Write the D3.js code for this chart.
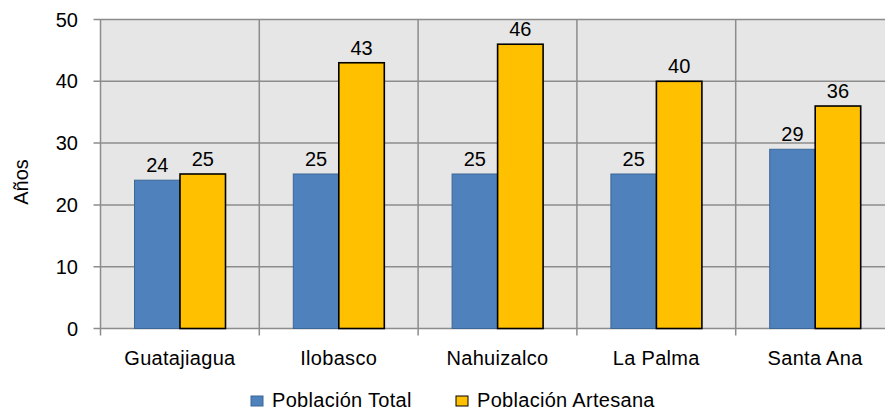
<!DOCTYPE html>
<html><head><meta charset="utf-8">
<script src="https://cdn.jsdelivr.net/npm/d3@7"></script>
<style>body{margin:0;background:#fff}svg{display:block}text{font-family:"Liberation Sans",Arial,sans-serif;fill:#000}</style>
</head><body><svg width="885" height="411"></svg>
<script>
const categories = ["Guatajiagua","Ilobasco","Nahuizalco","La Palma","Santa Ana"];
const seriesNames = ["Población Total","Población Artesana"];
const total = [24,25,25,25,29];
const artesana = [25,43,46,40,36];
const yTicks = [0,10,20,30,40,50];
const yTitle = "Años";
const colors = ["#4f81bd","#ffc000"];
const strokes = ["#3b6797","#000000"];

const svg = d3.select("svg");
const L = 100.5, T = 19.5, B = 328.5, band = 158.8;
const x = d3.scaleBand().domain(categories).range([L, L + band*categories.length]).padding(0);
const x1 = d3.scaleBand().domain(seriesNames).range([34, 34 + 91]).padding(0);
const y = d3.scaleLinear().domain([0,50]).range([B, T]);
const grid = "#8c8c8c";

svg.append("rect").attr("x", L).attr("y", T).attr("width", x.range()[1]-L).attr("height", B-T).attr("fill", "#e6e6e6");

// horizontal gridlines
svg.append("g").selectAll("line").data(yTicks).join("line")
  .attr("x1", L-7).attr("x2", x.range()[1]).attr("y1", d=>y(d)).attr("y2", d=>y(d))
  .attr("stroke", grid).attr("stroke-width", 1.5);
// vertical gridlines + ticks
const bounds = categories.map(c=>x(c)).concat([x.range()[1]]);
svg.append("g").selectAll("line").data(bounds).join("line")
  .attr("x1", d=>d).attr("x2", d=>d).attr("y1", T).attr("y2", B+7)
  .attr("stroke", grid).attr("stroke-width", 1.5);

// y tick labels
svg.append("g").selectAll("text").data(yTicks).join("text")
  .attr("x", 78).attr("y", d=>y(d)+7).attr("text-anchor","end").attr("font-size", 20).text(d=>d);

// y title
svg.append("text").attr("transform","translate(28,182) rotate(-90)").attr("text-anchor","middle")
  .attr("font-size", 20).text(yTitle);

const data = categories.map((c,i)=>({c, vals:[total[i], artesana[i]]}));
const g = svg.append("g").selectAll("g").data(data).join("g").attr("transform", d=>`translate(${x(d.c)},0)`);
g.selectAll("rect").data(d=>d.vals.map((v,k)=>({v,k}))).join("rect")
  .attr("x", d=>x1(seriesNames[d.k])).attr("width", x1.bandwidth())
  .attr("y", d=>y(d.v)).attr("height", d=>B - y(d.v))
  .attr("fill", d=>colors[d.k]).attr("stroke", d=>strokes[d.k]).attr("stroke-width", d=>d.k?1.6:1);
g.selectAll("text").data(d=>d.vals.map((v,k)=>({v,k}))).join("text")
  .attr("x", d=>x1(seriesNames[d.k]) + x1.bandwidth()/2).attr("y", d=>y(d.v)-8)
  .attr("text-anchor","middle").attr("font-size", 20).text(d=>d.v);

// category labels
svg.append("g").selectAll("text").data(categories).join("text")
  .attr("x", d=>x(d)+band/2).attr("y", 365).attr("text-anchor","middle").attr("font-size", 20)
  .attr("letter-spacing", 0.3).text(d=>d);

// legend
const legX = [251, 456];
const lg = svg.append("g").selectAll("g").data(seriesNames).join("g").attr("transform",(d,i)=>`translate(${legX[i]},0)`);
lg.append("rect").attr("x",0).attr("y",396).attr("width",12).attr("height",10)
  .attr("fill",(d,i)=>colors[i]).attr("stroke",(d,i)=>strokes[i]).attr("stroke-width",1);
lg.append("text").attr("x",21).attr("y",407).attr("font-size",20).attr("letter-spacing",0.3).text(d=>d);
</script></body></html>
